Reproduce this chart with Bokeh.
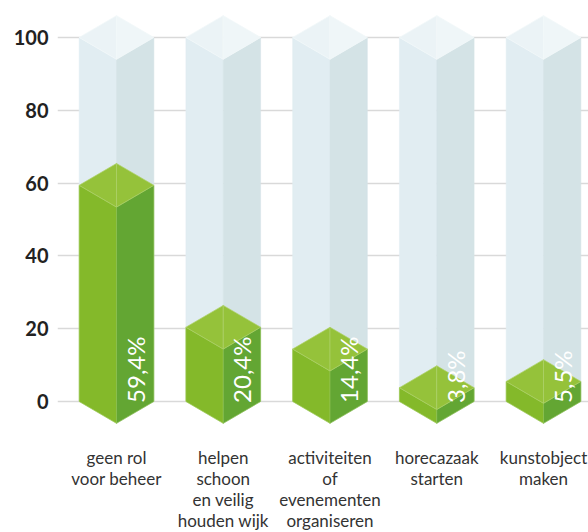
import numpy as np
from bokeh.plotting import figure
from bokeh.models import ColumnDataSource, FixedTicker, Range1d
from bokeh.core.properties import value
from bokeh.embed import file_html
from bokeh.resources import INLINE

categories = ["geen rol\nvoor beheer", "helpen\nschoon\nen veilig\nhouden wijk",
              "activiteiten\nof\nevenementen\norganiseren", "horecazaak\nstarten",
              "kunstobject\nmaken"]
values = [59.4, 20.4, 14.4, 3.8, 5.5]
max_value = 100
y_ticks = [0, 20, 40, 60, 80, 100]

W = 0.35   # half width of a prism (x units)
D = 6.0    # isometric depth (y units)

xs_c = np.arange(len(values), dtype=float)

def prism(vals):
    left_x, left_y, right_x, right_y, tl_x, tl_y, tr_x, tr_y = [], [], [], [], [], [], [], []
    for x, v in zip(xs_c, vals):
        left_x.append([x - W, x - W, x, x]); left_y.append([0, v, v - D, -D])
        right_x.append([x, x, x + W, x + W]); right_y.append([-D, v - D, v, 0])
        tl_x.append([x - W, x, x]); tl_y.append([v, v + D, v - D])
        tr_x.append([x, x + W, x]); tr_y.append([v + D, v, v - D])
    return (ColumnDataSource(dict(xs=left_x, ys=left_y)), ColumnDataSource(dict(xs=right_x, ys=right_y)),
            ColumnDataSource(dict(xs=tl_x, ys=tl_y)), ColumnDataSource(dict(xs=tr_x, ys=tr_y)))

p = figure(width=588, height=532, output_backend="svg", toolbar_location=None,
           frame_width=531, frame_height=430,
           min_border_left=57, min_border_right=0, min_border_top=0, min_border_bottom=0,
           x_range=Range1d(-0.5527, 4.4215), y_range=Range1d(-7.97, 110.16))
p.outline_line_color = None
p.background_fill_color = "white"
p.border_fill_color = "white"

# background prisms
bl, br, btl, btr = prism([max_value] * len(values))
p.patches("xs", "ys", source=bl, fill_color="#e1edf2", line_color="#e1edf2", line_width=0.5)
p.patches("xs", "ys", source=br, fill_color="#d4e3e6", line_color="#d4e3e6", line_width=0.5)
p.patches("xs", "ys", source=btl, fill_color="#ebf3f6", line_color="#f1f7f9", line_width=0.8)
p.patches("xs", "ys", source=btr, fill_color="#eff6f8", line_color="#f1f7f9", line_width=0.8)

# value prisms
gl, gr, gtl, gtr = prism(values)
p.patches("xs", "ys", source=gl, fill_color="#84b92a", line_color="#9cc84f", line_width=0.7)
p.patches("xs", "ys", source=gr, fill_color="#63a633", line_color="#8cc050", line_width=0.7)
p.patches("xs", "ys", source=gtl, fill_color="#95c23a", line_color="#aed168", line_width=0.7)
p.patches("xs", "ys", source=gtr, fill_color="#95c23a", line_color="#aed168", line_width=0.7)

lab = ColumnDataSource(dict(x=xs_c + W / 2, y=[-0.4] * len(values),
                            t=[f"{v:.1f}%".replace(".", ",") for v in values]))
p.text("x", "y", text="t", source=lab, angle=np.pi / 2, text_color="white",
       text_font=value("Lato"), text_font_size="24px", text_align="left", text_baseline="middle")

# axes
p.xgrid.grid_line_color = None
p.ygrid.grid_line_color = "#d9d9d9"
p.ygrid.grid_line_width = 1.5
p.ygrid.ticker = FixedTicker(ticks=y_ticks)

p.yaxis.ticker = FixedTicker(ticks=y_ticks)
p.yaxis.axis_line_color = None
p.yaxis.major_tick_line_color = None
p.yaxis.minor_tick_line_color = None
p.yaxis.major_label_text_font = "Lato"
p.yaxis.major_label_text_font_style = "bold"
p.yaxis.major_label_text_font_size = "20px"
p.yaxis.major_label_text_color = "#222222"
p.yaxis.major_label_standoff = 3

p.xaxis.ticker = FixedTicker(ticks=list(xs_c))
p.xaxis.major_label_overrides = {float(i): c for i, c in enumerate(categories)}
p.xaxis.axis_line_color = None
p.xaxis.major_tick_line_color = None
p.xaxis.minor_tick_line_color = None
p.xaxis.major_label_text_font = "Lato"
p.xaxis.major_label_text_font_size = "17px"
p.xaxis.major_label_text_color = "#333333"
p.xaxis.major_label_text_line_height = 1.0
p.xaxis.major_label_standoff = 10

open("out.html", "w").write(file_html(p, INLINE))
